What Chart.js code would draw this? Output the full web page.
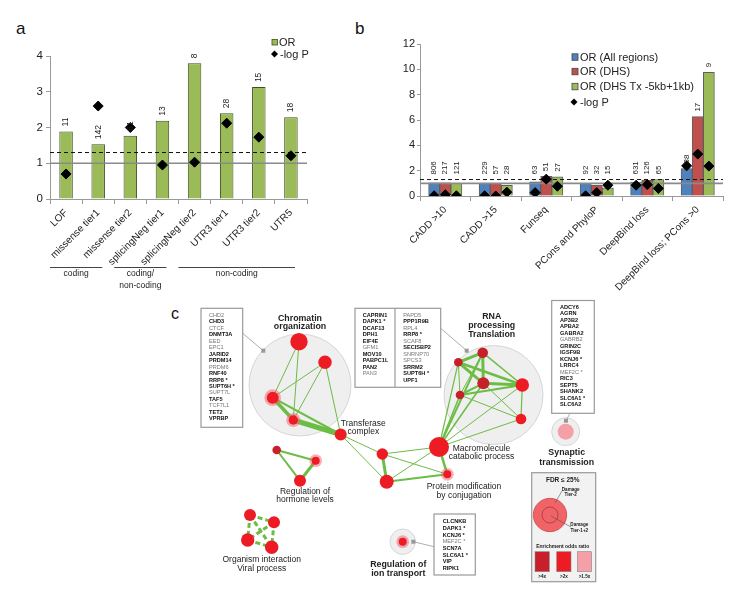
<!DOCTYPE html>
<html>
<head>
<meta charset="utf-8">
<script src="https://cdn.jsdelivr.net/npm/chart.js@4.4.1/dist/chart.umd.min.js"></script>
<style>
body { margin: 0; background: #fff; width: 737px; height: 589px; overflow: hidden; position: relative; font-family: Arial, "Liberation Sans", sans-serif; }
canvas { position: absolute; }
.panel { position: absolute; font-size: 17px; line-height: 1; color: #111; }
</style>
</head>
<body>
<div class="panel" style="left:16px;top:19.5px">a</div>
<div class="panel" style="left:355px;top:19.5px">b</div>
<div class="panel" style="left:171px;top:306px;font-size:16px">c</div>
<canvas id="chartA" width="360" height="300" style="left:0;top:0"></canvas>
<canvas id="chartB" width="377" height="300" style="left:360px;top:0"></canvas>
<canvas id="chartC" width="737" height="293" style="left:0;top:296px"></canvas>
<script>
// ---- panel a ----
const catA = ['LOF', 'missense tier1', 'missense tier2', 'splicingNeg tier1', 'splicingNeg tier2', 'UTR3 tier1', 'UTR3 tier2', 'UTR5'];
const orA = [1.89, 1.53, 1.77, 2.19, 3.80, 2.40, 3.13, 2.29];
const logpA = [0.70, 2.60, 2.00, 0.95, 1.03, 2.12, 1.73, 1.21];
const countA = [11, 142, 61, 13, 8, 28, 15, 18];
const groupNames = [['coding'], ['coding/', 'non-coding'], ['non-coding']];
const groupFrom = [0, 2, 4];
const groupTo = [1, 3, 7];

// ---- panel b ----
const catB = ['CADD >10', 'CADD >15', 'Funseq', 'PCons and PhyloP', 'DeepBind loss', 'DeepBind loss; PCons >0'];
const seriesB = ['OR (All regions)', 'OR (DHS)', 'OR (DHS Tx -5kb+1kb)'];
const orAll = [1.03, 1.00, 1.11, 1.00, 1.10, 2.17];
const orDhs = [1.03, 1.00, 1.56, 0.85, 1.25, 6.27];
const orTx = [1.00, 0.85, 1.51, 0.64, 1.30, 9.76];
const logpAll = [0.02, 0.02, 0.27, 0.02, 0.85, 2.38];
const logpDhs = [0.10, 0.00, 1.33, 0.27, 0.90, 3.31];
const logpTx = [0.02, 0.30, 0.77, 0.85, 0.60, 2.36];
const countAll = [806, 229, 63, 92, 631, 38];
const countDhs = [217, 57, 51, 32, 126, 17];
const countTx = [121, 28, 27, 15, 65, 9];

const refLine = 1;     // OR = 1
const sigLine = 1.3;   // -log P = 1.3 (P = 0.05)

// ---- panel c (network layout, page coordinates) ----
const nodeX = [299, 325, 272.7, 293.3, 340.7, 382.3, 386.7, 439, 447.3, 482.7, 458.3, 483.3, 460, 522.3, 521, 565.7, 276.7, 315.7, 300, 250, 274, 247.7, 271.7, 402.7];
const nodeY = [341.7, 362.3, 397.7, 420, 434.5, 454, 481.7, 447, 474.3, 352.7, 362.3, 383.3, 395, 385, 419, 431.7, 450, 460.7, 480.7, 515, 522.3, 540, 547.3, 541.7];
const nodeR = [8.7, 6.7, 6, 4.7, 6, 5.7, 7, 10, 4, 5.3, 4.3, 6, 4.3, 6.7, 5.3, 8, 4.3, 4, 6, 6, 6, 6.7, 6.7, 4];
const nodeOR = ['>2x', '>2x', '>2x', '>2x', '>2x', '>2x', '>2x', '>2x', '>2x', '>4x', '>4x', '>4x', '>4x', '>2x', '>2x', '>1.5x', '>4x', '>2x', '>2x', '>2x', '>2x', '>2x', '>2x', '>2x'];
const tier2Nodes = [2, 3, 8, 17, 23];
const edgeFrom = [0, 0, 1, 1, 1, 2, 2, 3, 4, 4, 5, 5, 5, 6, 6, 7, 9, 9, 10, 10, 9, 11, 12, 11, 10, 9, 13, 11, 12, 7, 7, 7, 7, 7, 7, 16, 16, 17];
const edgeTo = [2, 3, 2, 3, 4, 3, 4, 4, 5, 6, 6, 7, 8, 7, 8, 8, 10, 11, 11, 13, 13, 13, 13, 12, 12, 12, 14, 14, 14, 9, 10, 11, 12, 13, 14, 17, 18, 18];
const edgeW = [1, 1, 1, 1, 1, 3.5, 2, 5, 1, 1, 3, 1, 1, 1, 2, 2.5, 3, 3, 3, 2.5, 1.5, 3, 2, 2, 1, 1, 1.2, 1, 1, 2, 1.2, 1.5, 1.5, 1, 1, 2, 2, 3];
const dashFrom = [19, 19, 20, 21, 19, 20];
const dashTo = [20, 21, 22, 22, 22, 21];
const bgX = [300, 493.5, 565.7, 402.7];
const bgY = [385, 395, 431.7, 541.7];
const bgR = [51, 49.5, 14, 12.7];

const chromGenes = ['CHD2', 'CHD3', 'CTCF', 'DNMT3A', 'EED', 'EPC1', 'JARID2', 'PRDM14', 'PRDM6', 'RNF40', 'RRP8 *', 'SUPT6H *', 'SUPT7L', 'TAF5', 'TCF7L1', 'TET2', 'VPRBP'];
const rnaGenesA = ['CAPRIN1', 'DAPK1 *', 'DCAF13', 'DPH1', 'EIF4E', 'GFM1', 'MOV10', 'PABPC1L', 'PAN2', 'PAN3'];
const rnaGenesB = ['PAPD5', 'PPP1R9B', 'RPL4', 'RRP8 *', 'SCAF8', 'SECISBP2', 'SNRNP70', 'SPCS3', 'SRRM2', 'SUPT6H *', 'UPF1'];
const synGenes = ['ADCY6', 'AGRN', 'AP3B2', 'APBA2', 'GABRA2', 'GABRB2', 'GRIN2C', 'IGSF9B', 'KCNJ6 *', 'LRRC4', 'MEF2C *', 'RIC3', 'SEPT5', 'SHANK2', 'SLC6A1 *', 'SLC6A2'];
const ionGenes = ['CLCNKB', 'DAPK1 *', 'KCNJ6 *', 'MEF2C *', 'SCN7A', 'SLC6A1 *', 'VIP', 'RIPK1'];
const plainGenes = ['CHD2', 'CTCF', 'EED', 'EPC1', 'PRDM6', 'SUPT7L', 'TCF7L1', 'GFM1', 'PAN3', 'PAPD5', 'RPL4', 'SCAF8', 'SNRNP70', 'SPCS3', 'GABRB2', 'MEF2C *'];

const FONT = 'Arial, "Liberation Sans", sans-serif';
Chart.defaults.font.family = FONT;
Chart.defaults.color = '#222';
const orColors = { '>4x': '#c8202a', '>2x': '#ed1c24', '>1.5x': '#f4a0a6' };
const edgeGreen = '#6cbd45';

// reference lines (solid OR=1, dashed -log P=1.3), drawn over bars but under diamonds
const refLines = {
    id: 'refLines',
    beforeDatasetsDraw(chart) { chart.$refDone = false; },
    beforeDatasetDraw(chart, args) {
        if (chart.$refDone || args.meta.type === 'bar') return;
        chart.$refDone = true;
        const { ctx, chartArea: a } = chart;
        const y = chart.scales.y;
        ctx.save();
        ctx.strokeStyle = '#8a8a8a';
        ctx.lineWidth = 1.6;
        let p = y.getPixelForValue(refLine);
        ctx.beginPath(); ctx.moveTo(a.left, p); ctx.lineTo(a.right, p); ctx.stroke();
        ctx.strokeStyle = '#111';
        ctx.lineWidth = 1;
        ctx.setLineDash([4, 3]);
        p = y.getPixelForValue(sigLine);
        ctx.beginPath(); ctx.moveTo(a.left, p); ctx.lineTo(a.right, p); ctx.stroke();
        ctx.restore();
    }
};

// variant counts written vertically above the bars
const countLabels = {
    id: 'countLabels',
    afterDatasetsDraw(chart, args, opts) {
        const { ctx } = chart;
        const y = chart.scales.y;
        ctx.save();
        ctx.font = opts.size + 'px ' + FONT;
        ctx.fillStyle = '#222';
        ctx.textAlign = 'left';
        ctx.textBaseline = 'middle';
        chart.data.datasets.forEach((ds, di) => {
            if (!ds.counts) return;
            const meta = chart.getDatasetMeta(di);
            meta.data.forEach((bar, i) => {
                const v = meta.controller.getParsed(i).y;
                const p = y.getPixelForValue(Math.max(v, sigLine)) - 5;
                ctx.save();
                ctx.translate(bar.x, p);
                ctx.rotate(-Math.PI / 2);
                ctx.fillText(String(ds.counts[i]), 0, 0);
                ctx.restore();
            });
        });
        ctx.restore();
    }
};

function diamond(ctx, x, y, r) {
    ctx.beginPath();
    ctx.moveTo(x, y - r); ctx.lineTo(x + r, y); ctx.lineTo(x, y + r); ctx.lineTo(x - r, y);
    ctx.closePath();
    ctx.fill();
}

// legend + group brackets for panel a
const extrasA = {
    id: 'extrasA',
    afterDraw(chart) {
        const { ctx } = chart;
        const x = chart.scales.x;
        ctx.save();
        ctx.font = '11px ' + FONT;
        ctx.textBaseline = 'middle';
        ctx.fillStyle = '#9bbb59';
        ctx.fillRect(272, 39.5, 5.5, 5.5);
        ctx.strokeStyle = '#3f4f22';
        ctx.lineWidth = 0.8;
        ctx.strokeRect(272, 39.5, 5.5, 5.5);
        ctx.fillStyle = '#222';
        ctx.fillText('OR', 279, 42.5);
        ctx.fillStyle = '#000';
        diamond(ctx, 274.5, 54, 3.5);
        ctx.fillStyle = '#222';
        ctx.fillText('-log P', 280, 54.5);

        const w = (x.right - x.left) / catA.length;
        ctx.font = '8.5px ' + FONT;
        ctx.textAlign = 'center';
        ctx.strokeStyle = '#444';
        ctx.lineWidth = 1;
        groupNames.forEach((lines, g) => {
            const x0 = x.left + groupFrom[g] * w;
            const x1 = x.left + (groupTo[g] + 1) * w - 12;
            ctx.beginPath(); ctx.moveTo(x0, 267.5); ctx.lineTo(x1, 267.5); ctx.stroke();
            lines.forEach((t, k) => ctx.fillText(t, (x0 + x1) / 2, 274 + k * 11.5));
        });
        ctx.restore();
    }
};

const barColorsB = ['#4f81bd', '#c0504d', '#9bbb59'];
const legendB = {
    id: 'legendB',
    afterDraw(chart) {
        const { ctx } = chart;
        const ox = 212, ys = [57, 71.5, 86.5];
        ctx.save();
        ctx.font = '11px ' + FONT;
        ctx.textBaseline = 'middle';
        seriesB.forEach((s, i) => {
            ctx.fillStyle = barColorsB[i];
            ctx.fillRect(ox, ys[i] - 3.2, 6, 6.5);
            ctx.strokeStyle = '#444';
            ctx.lineWidth = 0.8;
            ctx.strokeRect(ox, ys[i] - 3.2, 6, 6.5);
            ctx.fillStyle = '#222';
            ctx.fillText(s, ox + 8, ys[i] + 0.5);
        });
        ctx.fillStyle = '#000';
        diamond(ctx, ox + 2, 102, 3.5);
        ctx.fillStyle = '#222';
        ctx.fillText('-log P', ox + 8, 102.5);
        ctx.restore();
    }
};

new Chart(document.getElementById('chartA'), {
    type: 'bar',
    data: {
        labels: catA,
        datasets: [
            {
                type: 'line', label: '-log P', data: logpA, showLine: false,
                pointStyle: 'rectRot', pointRadius: 5, pointBackgroundColor: '#000', pointBorderColor: '#000', order: 0
            },
            {
                label: 'OR', data: orA, counts: countA, backgroundColor: '#9bbb59', borderColor: '#3f4f22',
                borderWidth: 1, barPercentage: 0.42, categoryPercentage: 1, order: 1
            }
        ]
    },
    options: {
        responsive: false,
        animation: false,
        layout: { padding: { top: 56, right: 53, left: 0, bottom: 0 } },
        plugins: { legend: { display: false }, tooltip: { enabled: false }, countLabels: { size: 8.5 } },
        scales: {
            x: {
                grid: { offset: true, drawOnChartArea: false, tickLength: 5, color: '#999' },
                border: { color: '#999' },
                ticks: { autoSkip: false, minRotation: 45, maxRotation: 45, font: { size: 10 }, color: '#222' },
                afterFit: s => { s.height = 101; }
            },
            y: {
                min: 0, max: 4,
                ticks: { stepSize: 1, font: { size: 11.5 }, color: '#222', padding: 3 },
                grid: { drawOnChartArea: false, tickLength: 4, color: '#999' },
                border: { color: '#999' },
                afterFit: s => { s.width = 50; }
            }
        }
    },
    plugins: [refLines, countLabels, extrasA]
});

// panel b: one linear x axis, group i centred on i, three adjacent bars of width barW
const barW = 0.66 / 3;
const orSeries = [orAll, orDhs, orTx];
const logpSeries = [logpAll, logpDhs, logpTx];
const countSeries = [countAll, countDhs, countTx];
const logpPoints = [];
logpSeries.forEach((arr, j) => arr.forEach((v, i) => logpPoints.push({ x: i + (j - 1) * barW, y: v })));

const datasetsB = [{
    type: 'scatter', label: '-log P', data: logpPoints,
    pointStyle: 'rectRot', pointRadius: 5, pointBackgroundColor: '#000', pointBorderColor: '#000', order: 0
}];
seriesB.forEach((s, j) => {
    datasetsB.push({
        label: s,
        data: orSeries[j].map((v, i) => ({ x: i + (j - 1) * barW, y: v })),
        counts: countSeries[j],
        backgroundColor: barColorsB[j], borderColor: '#5f5f5f', borderWidth: 1,
        grouped: false, barPercentage: 1, categoryPercentage: 1, order: 1
    });
});

new Chart(document.getElementById('chartB'), {
    type: 'bar',
    data: { datasets: datasetsB },
    options: {
        responsive: false,
        animation: false,
        layout: { padding: { top: 44, right: 14, left: 0, bottom: 0 } },
        plugins: { legend: { display: false }, tooltip: { enabled: false }, countLabels: { size: 8 } },
        scales: {
            x: {
                type: 'linear', min: -0.5, max: catB.length - 0.5, offset: false,
                afterBuildTicks: s => { s.ticks = catB.map((c, i) => ({ value: i })); },
                grid: { offset: true, drawOnChartArea: false, tickLength: 5, color: '#999' },
                border: { color: '#999' },
                ticks: { autoSkip: false, minRotation: 45, maxRotation: 45, font: { size: 10 }, color: '#222', callback: v => catB[v] },
                afterFit: s => { s.height = 104; }
            },
            y: {
                min: 0, max: 12,
                ticks: { stepSize: 2, font: { size: 11 }, color: '#222', padding: 2 },
                grid: { drawOnChartArea: false, tickLength: 3, color: '#999' },
                border: { color: '#999' },
                afterFit: s => { s.width = 60; }
            }
        }
    },
    plugins: [refLines, countLabels, legendB]
});

// ---- panel c ----
const netDatasets = [];
netDatasets.push({
    label: 'modules', data: bgX.map((x, i) => ({ x, y: bgY[i] })), pointRadius: bgR,
    backgroundColor: '#efefef', borderColor: '#d6d6d6', borderWidth: 1, order: 10
});
edgeFrom.forEach((a, i) => {
    const b = edgeTo[i];
    netDatasets.push({
        type: 'line', data: [{ x: nodeX[a], y: nodeY[a] }, { x: nodeX[b], y: nodeY[b] }],
        borderColor: edgeGreen, borderWidth: edgeW[i], pointRadius: 0, order: 5
    });
});
dashFrom.forEach((a, i) => {
    const b = dashTo[i];
    netDatasets.push({
        type: 'line', data: [{ x: nodeX[a], y: nodeY[a] }, { x: nodeX[b], y: nodeY[b] }],
        borderColor: edgeGreen, borderWidth: 3, borderDash: [5, 3], pointRadius: 0, order: 5
    });
});
netDatasets.push({
    label: 'tier2', data: tier2Nodes.map(i => ({ x: nodeX[i], y: nodeY[i] })),
    pointRadius: tier2Nodes.map(i => nodeR[i] + 2.4), backgroundColor: 'rgba(240,100,110,0.5)', borderWidth: 0, order: 3
});
netDatasets.push({
    label: 'nodes', data: nodeX.map((x, i) => ({ x, y: nodeY[i] })), pointRadius: nodeR,
    backgroundColor: nodeOR.map(c => orColors[c]), borderWidth: 0, order: 1
});

function geneList(ctx, genes, x, y0, step) {
    genes.forEach((g, i) => {
        const plain = plainGenes.includes(g);
        ctx.font = (plain ? '' : 'bold ') + '5.6px ' + FONT;
        ctx.fillStyle = plain ? '#777' : '#111';
        ctx.fillText(g, x, y0 + i * step);
    });
}

function label(ctx, lines, x, y, step, bold, size) {
    ctx.font = (bold ? 'bold ' : '') + size + 'px ' + FONT;
    ctx.fillStyle = '#222';
    lines.forEach((t, k) => ctx.fillText(t, x, y + k * step));
}

const networkText = {
    id: 'networkText',
    afterDatasetsDraw(chart) {
        const { ctx } = chart;
        const X = v => chart.scales.x.getPixelForValue(v);
        const Y = v => chart.scales.y.getPixelForValue(v);
        ctx.save();
        ctx.textBaseline = 'middle';

        // connectors + grey handles
        ctx.strokeStyle = '#999';
        ctx.lineWidth = 0.8;
        [[263.3, 350.7, 242.7, 333.3], [466.7, 350.7, 440.7, 328.3], [566, 420.7, 570, 413.3], [413.3, 541.7, 434, 546.7]].forEach(c => {
            ctx.beginPath(); ctx.moveTo(X(c[0]), Y(c[1])); ctx.lineTo(X(c[2]), Y(c[3])); ctx.stroke();
            ctx.fillStyle = '#999';
            ctx.fillRect(X(c[0]) - 2, Y(c[1]) - 2, 4, 4);
        });

        // gene boxes
        ctx.strokeStyle = '#9a9a9a';
        ctx.lineWidth = 1.2;
        [[201, 308.3, 242.7, 427.3], [355, 308.3, 440.7, 387.3], [551.7, 300.5, 594.3, 413.3], [434, 514, 475.3, 575]].forEach(b => {
            ctx.fillStyle = '#fff';
            ctx.fillRect(X(b[0]), Y(b[1]), X(b[2]) - X(b[0]), Y(b[3]) - Y(b[1]));
            ctx.strokeRect(X(b[0]), Y(b[1]), X(b[2]) - X(b[0]), Y(b[3]) - Y(b[1]));
        });
        ctx.beginPath(); ctx.moveTo(X(395), Y(308.3)); ctx.lineTo(X(395), Y(387.3)); ctx.stroke();
        ctx.textAlign = 'left';
        geneList(ctx, chromGenes, X(209), Y(315.5), 6.45);
        geneList(ctx, rnaGenesA, X(362.7), Y(315), 6.5);
        geneList(ctx, rnaGenesB, X(403.3), Y(315), 6.5);
        geneList(ctx, synGenes, X(560), Y(307.3), 6.5);
        geneList(ctx, ionGenes, X(442.7), Y(521.7), 6.67);

        // module labels
        ctx.textAlign = 'center';
        label(ctx, ['Chromatin', 'organization'], X(300), Y(318.3), 8.6, true, 8.8);
        label(ctx, ['RNA', 'processing', 'Translation'], X(491.7), Y(316.5), 8.8, true, 8.8);
        label(ctx, ['Transferase', 'complex'], X(363.3), Y(423.3), 8.5, false, 8.5);
        label(ctx, ['Macromolecule', 'catabolic process'], X(481.5), Y(448.3), 8.5, false, 8.5);
        label(ctx, ['Protein modification', 'by conjugation'], X(464), Y(486.7), 8.6, false, 8.5);
        label(ctx, ['Regulation of', 'hormone levels'], X(305), Y(491.7), 8.4, false, 8.5);
        label(ctx, ['Organism interaction', 'Viral process'], X(261.7), Y(560), 8.4, false, 8.5);
        label(ctx, ['Synaptic', 'transmission'], X(566.7), Y(452.3), 10, true, 8.8);
        label(ctx, ['Regulation of', 'ion transport'], X(398.3), Y(565), 8.4, true, 8.8);

        // legend box
        ctx.fillStyle = '#f2f2f2';
        ctx.strokeStyle = '#9a9a9a';
        ctx.lineWidth = 1.2;
        ctx.fillRect(X(531.7), Y(472.7), X(595.7) - X(531.7), Y(581.7) - Y(472.7));
        ctx.strokeRect(X(531.7), Y(472.7), X(595.7) - X(531.7), Y(581.7) - Y(472.7));
        label(ctx, ['FDR \u2264 25%'], X(562.7), Y(480), 0, true, 6.5);
        ctx.beginPath();
        ctx.arc(X(550), Y(515), 16.7, 0, Math.PI * 2);
        ctx.fillStyle = '#f06367';
        ctx.fill();
        ctx.strokeStyle = '#c9494c';
        ctx.lineWidth = 0.8;
        ctx.stroke();
        ctx.beginPath();
        ctx.arc(X(550), Y(515), 8, 0, Math.PI * 2);
        ctx.strokeStyle = '#a8383b';
        ctx.stroke();
        ctx.strokeStyle = '#555';
        ctx.lineWidth = 0.6;
        ctx.beginPath(); ctx.moveTo(X(562), Y(491)); ctx.lineTo(X(555), Y(503)); ctx.stroke();
        ctx.beginPath(); ctx.moveTo(X(551), Y(516)); ctx.lineTo(X(571), Y(527)); ctx.stroke();
        label(ctx, ['Damage', 'Tier-2'], X(570.7), Y(489.3), 5.7, true, 4.6);
        label(ctx, ['Damage', 'Tier-1+2'], X(579.3), Y(525), 5.7, true, 4.6);
        label(ctx, ['Enrichment odds ratio'], X(562.7), Y(546.7), 0, true, 5);
        const keys = Object.keys(orColors);
        [535, 556.7, 577.3].forEach((sx, i) => {
            ctx.fillStyle = orColors[keys[i]];
            ctx.fillRect(X(sx), Y(551.7), 14.3, 20);
            ctx.strokeStyle = '#888';
            ctx.lineWidth = 0.6;
            ctx.strokeRect(X(sx), Y(551.7), 14.3, 20);
            label(ctx, [keys[i]], X(sx + 7.2), Y(576.3), 0, true, 4.6);
        });
        ctx.restore();
    }
};

new Chart(document.getElementById('chartC'), {
    type: 'scatter',
    data: { datasets: netDatasets },
    options: {
        responsive: false,
        animation: false,
        layout: { padding: 0, autoPadding: false },
        clip: false,
        plugins: { legend: { display: false }, tooltip: { enabled: false } },
        scales: {
            x: { type: 'linear', display: false, min: 0, max: 737 },
            y: { type: 'linear', display: false, min: 296, max: 589, reverse: true }
        }
    },
    plugins: [networkText]
});
</script>
</body>
</html>
